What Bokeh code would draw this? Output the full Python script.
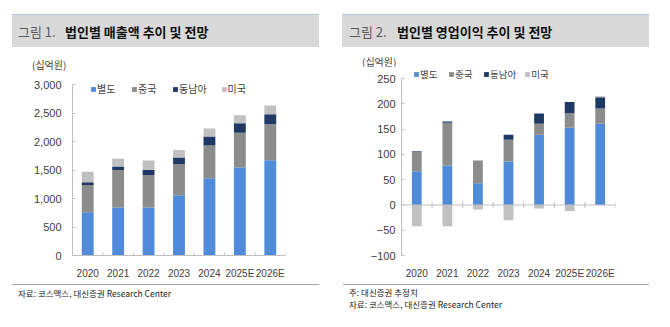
from bokeh.plotting import figure
from bokeh.layouts import row, column
from bokeh.models import (ColumnDataSource, Range1d, FactorRange, Span, Legend, LegendItem,
                          FixedTicker, NumeralTickFormatter, Div)
from bokeh.transform import dodge
from bokeh.embed import file_html
from bokeh.resources import INLINE

# ---------------- data ----------------
years = ["2020", "2021", "2022", "2023", "2024", "2025E", "2026E"]
series = ["별도", "중국", "동남아", "미국"]

sales_domestic = [760, 845, 845, 1060, 1357, 1548, 1676]
sales_china = [478, 657, 570, 547, 575, 610, 632]
sales_sea = [50, 64, 92, 116, 162, 168, 174]
sales_us = [185, 133, 163, 133, 139, 139, 157]

op_domestic = [67, 78, 43, 86, 139, 153, 161]
op_china = [39, 85, 45, 43, 22, 29, 30]
op_sea = [1, 2, 0, 10, 20, 22, 22]
op_us = [-42, -42, -9, -30, -7, -12, 2]

sales_ticks = [0, 500, 1000, 1500, 2000, 2500, 3000]
op_ticks = [-100, -50, 0, 50, 100, 150, 200, 250]
op_tick_text = {-100: "\u2212100", -50: "\u221250"}

colors = ["#4f8bd8", "#8c8c8c", "#1f3864", "#c0c0c0"]

unit_text = "(십억원)"
title1_a, title1_b = "그림 1.", "법인별 매출액 추이 및 전망"
title2_a, title2_b = "그림 2.", "법인별 영업이익 추이 및 전망"
source_text = "자료: 코스맥스, 대신증권 Research Center"
note_text = "주: 대신증권 추정치"

KR = "Noto Sans CJK KR"
NUM = "Liberation Sans"
W = 335
FOOT_TOP = 281   # page y where figures end / footers start


def stack(cols):
    n = len(cols[0])
    pos = [0] * n
    neg = [0] * n
    out = []
    for vals in cols:
        b, t = [], []
        for i, v in enumerate(vals):
            if v >= 0:
                b.append(pos[i]); pos[i] += v; t.append(pos[i])
            else:
                b.append(neg[i]); neg[i] += v; t.append(neg[i])
        out.append((b, t))
    return out


def header_div(h, band_l, band_w, ta_x, tb_x, ta, tb, unit_x, unit_y):
    html = (
        f'<div style="position:relative;width:{W}px;height:{h}px;font-family:\'{KR}\';">'
        f'<div style="position:absolute;left:{band_l}px;top:14px;width:{band_w}px;height:33px;'
        f'background:#d9d9d9;border-top:1px solid #b4c6e0;box-sizing:border-box;"></div>'
        f'<div style="position:absolute;left:{ta_x}px;top:23.5px;font-size:13px;line-height:15px;'
        f'white-space:nowrap;color:#595959;">{ta}</div>'
        f'<div style="position:absolute;left:{tb_x}px;top:23.5px;font-size:13px;line-height:15px;'
        f'white-space:nowrap;color:#111111;font-weight:bold;">{tb}</div>'
        f'<div style="position:absolute;left:{unit_x}px;top:{unit_y - 6}px;font-size:10px;line-height:12px;'
        f'white-space:nowrap;color:#404040;">{unit_text}</div>'
        '</div>'
    )
    return Div(text=html, width=W, height=h, margin=(0, 0, 0, 0))


def footer_div(h, band_l, band_w, tx, lines):
    parts = [f'<div style="position:relative;width:{W}px;height:{h}px;font-family:\'{KR}\';">',
             f'<div style="position:absolute;left:{band_l}px;top:3px;width:{band_w}px;height:1px;'
             f'background:#a6a6a6;"></div>']
    for txt, cy in lines:
        parts.append(f'<div style="position:absolute;left:{tx}px;top:{cy - 5}px;font-size:8.5px;'
                     f'line-height:10px;white-space:nowrap;color:#222222;">{txt}</div>')
    parts.append('</div>')
    return Div(text="".join(parts), width=W, height=h, margin=(0, 0, 0, 0))


def make_panel(cols, ticks, fig_top, frame_px, mb, bar_w, cfg, zero_axis):
    ml, mr, mbot = mb
    fig_h = FOOT_TOP - fig_top
    frame_h = fig_h - mbot
    ylo, ytop = ticks[0], ticks[-1]
    yhi = ylo + (ytop - ylo) * frame_h / frame_px
    p = figure(width=W, height=fig_h, x_range=FactorRange(factors=years),
               y_range=Range1d(ylo, yhi), output_backend="svg", toolbar_location=None,
               min_border_left=ml, min_border_right=mr, min_border_top=0,
               min_border_bottom=mbot, margin=(0, 0, 0, 0))
    p.outline_line_color = None
    p.grid.grid_line_color = None
    p.background_fill_color = "white"
    p.border_fill_color = "white"

    renderers = []
    for (b, t), name, c in zip(stack(cols), series, colors):
        src = ColumnDataSource(dict(x=years, bottom=b, top=t))
        r = p.vbar(x="x", bottom="bottom", top="top", width=bar_w, source=src,
                   fill_color=c, line_color=None)
        renderers.append(r)

    yax = p.yaxis[0]
    yax.ticker = FixedTicker(ticks=ticks)
    yax.formatter = NumeralTickFormatter(format="0,0")
    yax.bounds = (ylo, ytop)
    yax.axis_line_color = "#bfbfbf"
    yax.major_tick_line_color = "#bfbfbf"
    yax.major_tick_in = 3
    yax.major_tick_out = 0
    yax.minor_tick_line_color = None
    yax.major_label_text_font = NUM
    yax.major_label_text_font_size = "11px"
    yax.major_label_text_color = "#404040"
    yax.major_label_standoff = cfg["ystand"]
    if cfg.get("overrides"):
        yax.major_label_overrides = cfg["overrides"]

    xax = p.xaxis[0]
    xax.major_label_text_font = NUM
    xax.major_label_text_font_size = "10px"
    xax.major_label_text_color = "#404040"
    xax.major_tick_line_color = None
    xax.major_label_standoff = 6
    if zero_axis:
        xax.axis_line_color = None
        p.add_layout(Span(location=0, dimension="width", line_color="#bfbfbf", line_width=1))
    else:
        xax.axis_line_color = "#bfbfbf"

    # small boundary ticks on the category axis
    tsrc = ColumnDataSource(dict(x=years))
    d = (ytop - ylo) / frame_px
    y0 = -3 * d if zero_axis else 0
    p.segment(x0=dodge("x", 0.5, range=p.x_range), x1=dodge("x", 0.5, range=p.x_range),
              y0=y0, y1=3 * d, source=tsrc, line_color="#bfbfbf", line_width=1)

    leg = Legend(items=[LegendItem(label=s, renderers=[r]) for s, r in zip(series, renderers)],
                 orientation="horizontal",
                 location=(cfg["leg_x"] - ml, FOOT_TOP - mbot - cfg["leg_y"]),
                 glyph_width=6, glyph_height=6, label_standoff=1, spacing=cfg["leg_sp"],
                 padding=0, margin=0, border_line_color=None, background_fill_alpha=0,
                 label_text_font=KR, label_text_font_size=cfg["leg_fs"],
                 label_text_color="#404040", label_height=10)
    p.add_layout(leg)
    return p


left_cfg = dict(ystand=11, leg_x=90, leg_y=98, leg_sp=14, leg_fs="10px")
right_cfg = dict(ystand=6, leg_x=413 - 335, leg_y=82.5, leg_sp=8, leg_fs="9.5px",
                 overrides=op_tick_text)

LH, RH = 72, 66   # header heights

p1 = make_panel([sales_domestic, sales_china, sales_sea, sales_us], sales_ticks, LH, 172.5,
                (72, 50, 24), 0.39, left_cfg, False)
p2 = make_panel([op_domestic, op_china, op_sea, op_us], op_ticks, RH, 178.7,
                (66, 55, 24), 0.32, right_cfg, True)

h1 = header_div(LH, 12, 307, 18, 65, title1_a, title1_b, 32, 65)
h2 = header_div(RH, 7, 307, 14, 62, title2_a, title2_b, 27, 61.5)
f1 = footer_div(327 - FOOT_TOP, 12, 307, 18, [(source_text, 293 - FOOT_TOP)])
f2 = footer_div(327 - FOOT_TOP, 8, 306, 14, [(note_text, 292 - FOOT_TOP), (source_text, 303.5 - FOOT_TOP)])

layout = row(column(h1, p1, f1, spacing=0, margin=(0, 0, 0, 0)),
             column(h2, p2, f2, spacing=0, margin=(0, 0, 0, 0)),
             spacing=0, margin=(0, 0, 0, 0))
open("out.html", "w").write(file_html(layout, INLINE))
